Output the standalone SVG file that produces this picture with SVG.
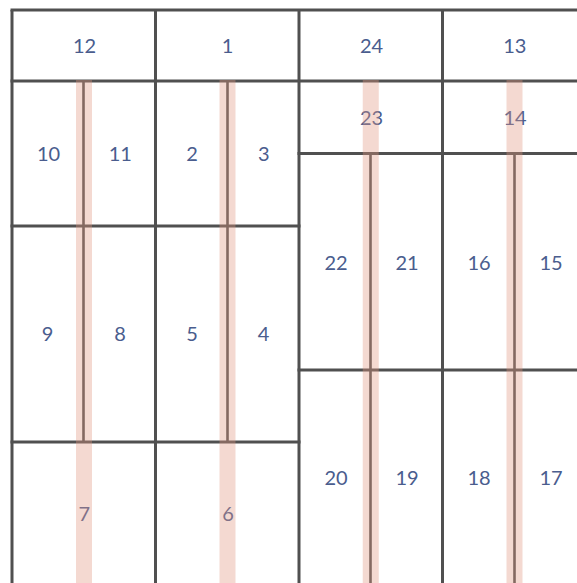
<svg xmlns="http://www.w3.org/2000/svg" width="577" height="583" viewBox="0 0 577 583">
<style>
.g{stroke:#505050;stroke-width:3;fill:none;stroke-linecap:square}
.c{stroke:#505050;stroke-width:2.6;fill:none}
.t{font-family:Lato,"Open Sans","Liberation Sans",sans-serif;font-size:20px;fill:#4a5d8e;text-anchor:middle}
.b{fill:#e0967f;opacity:0.36}
</style>
<rect width="577" height="583" fill="#ffffff"/>
<g id="connectors">
<path class="g" d="M12 10H577M12 81H577M299 153.5H577M299 370H577M12 226H299M12 442H299"/>
<path class="g" d="M12 10V583M155.5 10V583M299 10V583M442.5 10V583" style="stroke-linecap:butt"/>
<path class="c" d="M83.5 81V442M227.5 81V442M370.5 153.5V583M514.5 153.5V583"/>
</g>
<g id="n12"><text class="t" x="84.5" y="53">12</text></g>
<g id="n1"><text class="t" x="227.5" y="53">1</text></g>
<g id="n24"><text class="t" x="371.5" y="53">24</text></g>
<g id="n13"><text class="t" x="514.8" y="53">13</text></g>
<g id="n10"><text class="t" x="48.5" y="161">10</text></g>
<g id="n11"><text class="t" x="120.3" y="161">11</text></g>
<g id="n2"><text class="t" x="192" y="161">2</text></g>
<g id="n3"><text class="t" x="263.8" y="161">3</text></g>
<g id="n23"><text class="t" x="371.5" y="125">23</text></g>
<g id="n14"><text class="t" x="515" y="125">14</text></g>
<g id="n22"><text class="t" x="336" y="270">22</text></g>
<g id="n21"><text class="t" x="407" y="270">21</text></g>
<g id="n16"><text class="t" x="479" y="270">16</text></g>
<g id="n15"><text class="t" x="551" y="270">15</text></g>
<g id="n9"><text class="t" x="47.5" y="341">9</text></g>
<g id="n8"><text class="t" x="120" y="341">8</text></g>
<g id="n5"><text class="t" x="192" y="341">5</text></g>
<g id="n4"><text class="t" x="263.5" y="341">4</text></g>
<g id="n20"><text class="t" x="336" y="485">20</text></g>
<g id="n19"><text class="t" x="407" y="485">19</text></g>
<g id="n18"><text class="t" x="479" y="485">18</text></g>
<g id="n17"><text class="t" x="551" y="485">17</text></g>
<g id="n7"><text class="t" x="84.2" y="521">7</text></g>
<g id="n6"><text class="t" x="228" y="521">6</text></g>
<g id="bands">
<rect class="b" x="76" y="80" width="16" height="503"/>
<rect class="b" x="219.5" y="80" width="16" height="503"/>
<rect class="b" x="362.75" y="80" width="16" height="503"/>
<rect class="b" x="506.5" y="80" width="16" height="503"/>
</g>
</svg>
